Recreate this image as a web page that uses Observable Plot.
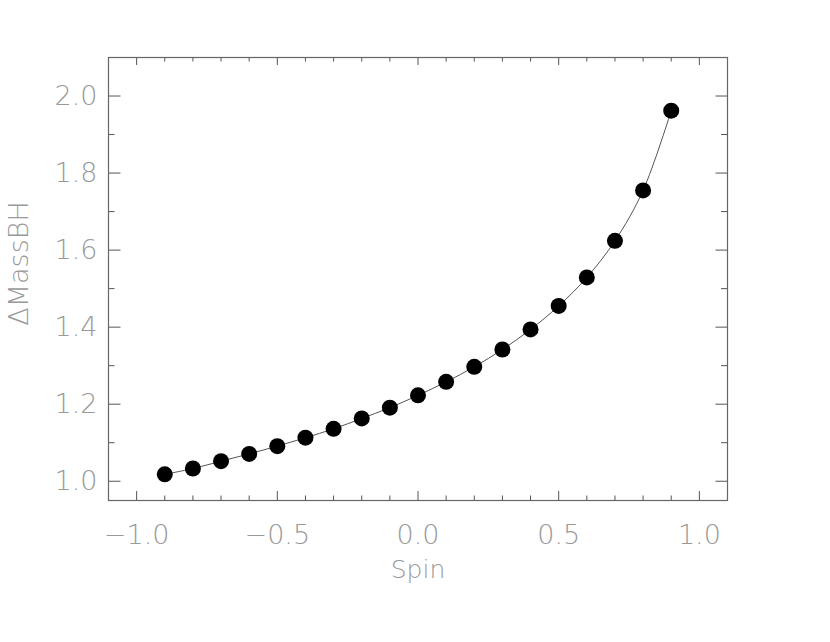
<!DOCTYPE html>
<html><head><meta charset="utf-8">
<script src="https://cdn.jsdelivr.net/npm/d3@7"></script>
<script src="https://cdn.jsdelivr.net/npm/@observablehq/plot@0.6"></script>
<style>body{margin:0;background:#fff}#chart svg{display:block}</style>
</head><body><div id="chart"></div>
<script>
const spin = [-0.9,-0.8,-0.7,-0.6,-0.5,-0.4,-0.3,-0.2,-0.1,0.0,0.1,0.2,0.3,0.4,0.5,0.6,0.7,0.8,0.9];
const massBH = [1.018,1.033,1.052,1.071,1.091,1.113,1.136,1.163,1.191,1.223,1.258,1.297,1.342,1.394,1.455,1.529,1.624,1.755,1.962];
const xMajorTicks = [-1.0,-0.5,0.0,0.5,1.0];
const xMinorTicks = [-0.9,-0.8,-0.7,-0.6,-0.4,-0.3,-0.2,-0.1,0.1,0.2,0.3,0.4,0.6,0.7,0.8,0.9];
const yMajorTicks = [1.0,1.2,1.4,1.6,1.8,2.0];
const yMinorTicks = [1.1,1.3,1.5,1.7,1.9];
const xLabel = "Spin";
const yLabel = "\u0394MassBH";

const data = spin.map((s,i)=>({spin:s, mass:massBH[i]}));
const W=830, H=642, mL=108, mR=103, mT=57, mB=142;
const iW = W-mL-mR, iH = H-mT-mB;
const tc = "#555", txt = "#999";
const fmt = d3.format(".1f");

const chart = Plot.plot({
  width: W, height: H,
  marginLeft: mL, marginRight: mR, marginTop: mT, marginBottom: mB,
  x: {domain: [-1.1, 1.1]},
  y: {domain: [0.95, 2.1]},
  style: {fontFamily: "'DejaVu Sans', sans-serif", fontWeight: 200, background: "#fff"},
  marks: [
    Plot.axisX(xMajorTicks, {anchor: "bottom", tickSize: 0, tickPadding: 24, tickFormat: fmt, fontSize: 27, fill: txt, label: null}),
    Plot.axisY(yMajorTicks, {anchor: "left", tickSize: 0, tickPadding: 11, tickFormat: fmt, fontSize: 27, fill: txt, label: null}),
    // bottom ticks
    Plot.tickX(xMajorTicks, {x: d=>d, insetTop: iH-9, stroke: tc}),
    Plot.tickX(xMinorTicks, {x: d=>d, insetTop: iH-4.5, stroke: tc}),
    // top ticks
    Plot.tickX(xMajorTicks, {x: d=>d, insetBottom: iH-8, stroke: tc}),
    Plot.tickX(xMinorTicks, {x: d=>d, insetBottom: iH-4.5, stroke: tc}),
    // left ticks
    Plot.tickY(yMajorTicks, {y: d=>d, insetRight: iW-12.5, stroke: tc}),
    Plot.tickY(yMinorTicks, {y: d=>d, insetRight: iW-6.5, stroke: tc}),
    // right ticks
    Plot.tickY(yMajorTicks, {y: d=>d, insetLeft: iW-11.5, stroke: tc}),
    Plot.tickY(yMinorTicks, {y: d=>d, insetLeft: iW-6, stroke: tc}),
    Plot.frame({stroke: "#666", strokeWidth: 1.2}),
    Plot.line(data, {x: "spin", y: "mass", curve: "catmull-rom", stroke: "#555", strokeWidth: 1}),
    Plot.dot(data, {x: "spin", y: "mass", r: 8, fill: "#000", stroke: "none"}),
    Plot.text([xLabel], {text: d=>d, frameAnchor: "bottom", textAnchor: "middle", lineAnchor: "middle", dy: 69, fontSize: 25, fill: txt}),
    Plot.text([yLabel], {text: d=>d, frameAnchor: "left", textAnchor: "middle", lineAnchor: "middle", dx: -89, dy: -15.5, rotate: -90, fontSize: 27, fill: txt})
  ]
});
document.getElementById("chart").appendChild(chart);
</script>
</body></html>
